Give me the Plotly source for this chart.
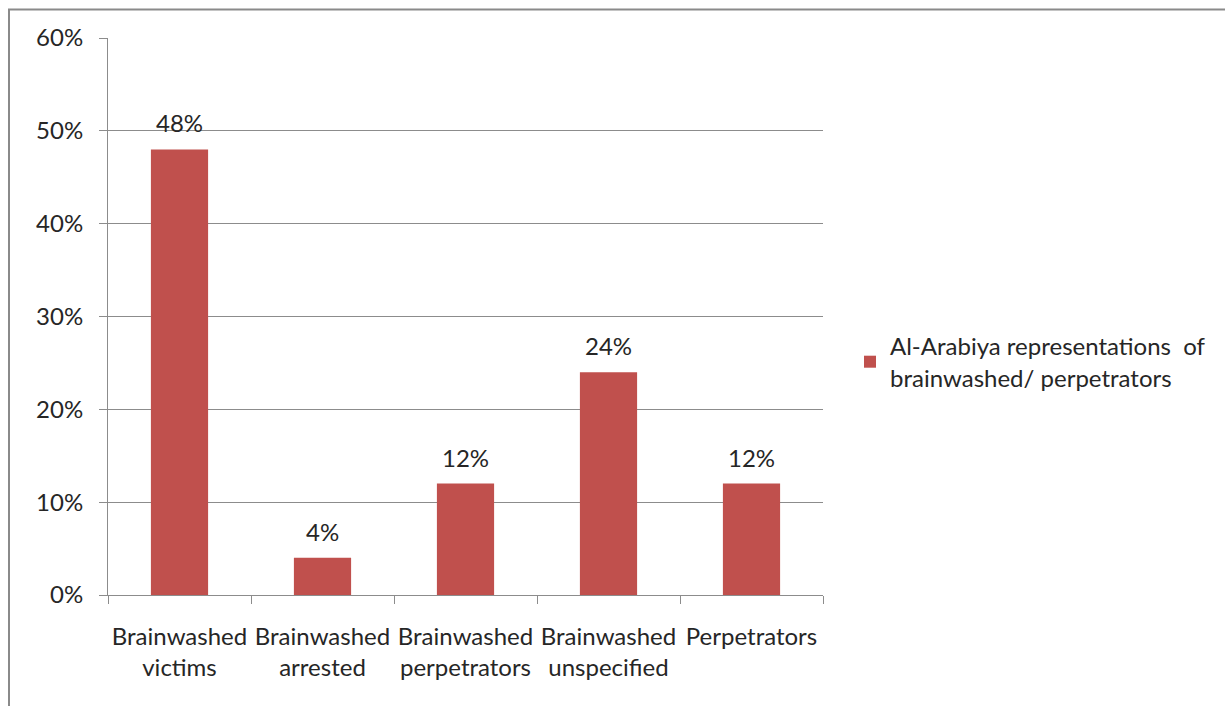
import plotly.graph_objects as go

categories = [
    "Brainwashed<br>victims",
    "Brainwashed<br>arrested",
    "Brainwashed<br>perpetrators",
    "Brainwashed<br>unspecified",
    "Perpetrators",
]
shares = [0.48, 0.04, 0.12, 0.24, 0.12]
series_name = "Al-Arabiya representations  of<br>brainwashed/ perpetrators"

FONT = "Lato"
SIZE = 24
TEXT = "#262626"
GRID = "#8c8c8c"
BAR = "#c0504d"

fig = go.Figure(
    go.Bar(
        x=categories,
        y=shares,
        name=series_name,
        marker=dict(color=BAR, line=dict(width=0)),
        showlegend=True,
    )
)

# value labels above each bar
for cat, val in zip(categories, shares):
    fig.add_annotation(
        x=cat, y=val, text=f"{val:.0%}", showarrow=False,
        xref="x", yref="y", yanchor="bottom", yshift=10,
        font=dict(family=FONT, size=SIZE, color=TEXT),
    )

# pixel -> paper helpers for the outer frame
L, R, T, B = 108, 823, 38, 595
def px(x):
    return (x - L) / (R - L)
def py(y):
    return (B - y) / (B - T)

fig.add_shape(
    type="rect", xref="paper", yref="paper",
    x0=px(9), x1=px(1240), y0=py(720), y1=py(9.5),
    line=dict(color="#8a8a8a", width=2), fillcolor="rgba(0,0,0,0)",
    layer="below",
)

fig.update_layout(
    width=1225, height=706,
    margin=dict(l=L, r=1225 - R, t=T, b=706 - B, pad=0, autoexpand=False),
    paper_bgcolor="white", plot_bgcolor="white",
    bargap=0.6,
    font=dict(family=FONT, size=SIZE, color=TEXT),
    showlegend=True,
    legend=dict(
        x=px(850), y=py(362), xanchor="left", yanchor="middle",
        font=dict(family=FONT, size=SIZE, color=TEXT),
        itemwidth=30, tracegroupgap=0,
        bgcolor="rgba(0,0,0,0)",
    ),
    xaxis=dict(
        showline=True, linecolor=GRID, linewidth=1,
        ticks="outside", ticklen=8, tickcolor=GRID, tickson="boundaries",
        tickfont=dict(family=FONT, size=SIZE, color=TEXT),
        tickangle=0, automargin=False,
        ticklabelstandoff=20,
        showgrid=False, fixedrange=True,
    ),
    yaxis=dict(
        range=[0, 0.6], dtick=0.1, tickformat=".0%",
        showline=True, linecolor=GRID, linewidth=1,
        ticks="outside", ticklen=8, tickcolor=GRID,
        showgrid=True, gridcolor=GRID, gridwidth=1,
        zeroline=False, automargin=False,
        tickfont=dict(family=FONT, size=SIZE, color=TEXT),
        ticklabelstandoff=11,
    ),
)

fig.write_html("out.html")
